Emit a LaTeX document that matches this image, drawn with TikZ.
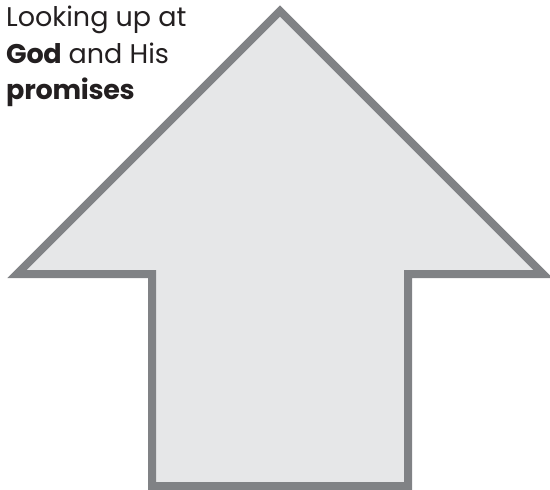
\documentclass[tikz,border=0pt]{standalone}
\usepackage{fontspec}
\setmainfont{Poppins}[BoldFeatures={LetterSpace=-1}]
\definecolor{arrowfill}{HTML}{E6E7E8}
\definecolor{arrowline}{HTML}{808285}
\definecolor{inktext}{HTML}{231F20}
\begin{document}
\begin{tikzpicture}[x=1pt,y=-1pt]
  \useasboundingbox (0,0) rectangle (550,490);

  % Big upward arrow, symmetric about x=280.
  \draw[line width=8pt,draw=arrowline,fill=arrowfill,line join=miter]
    (280,11) -- (543,274) -- (408,274) -- (408,486) -- (152,486)
    -- (152,274) -- (17,274) -- cycle;

  \node[anchor=north west,inner sep=0pt,align=left,text=inktext,
        font=\fontsize{27}{36.5}\selectfont] (caption) at (6,6)
    {Looking up at\\ \textbf{God} and His\\ \textbf{promises}};
\end{tikzpicture}
\end{document}
